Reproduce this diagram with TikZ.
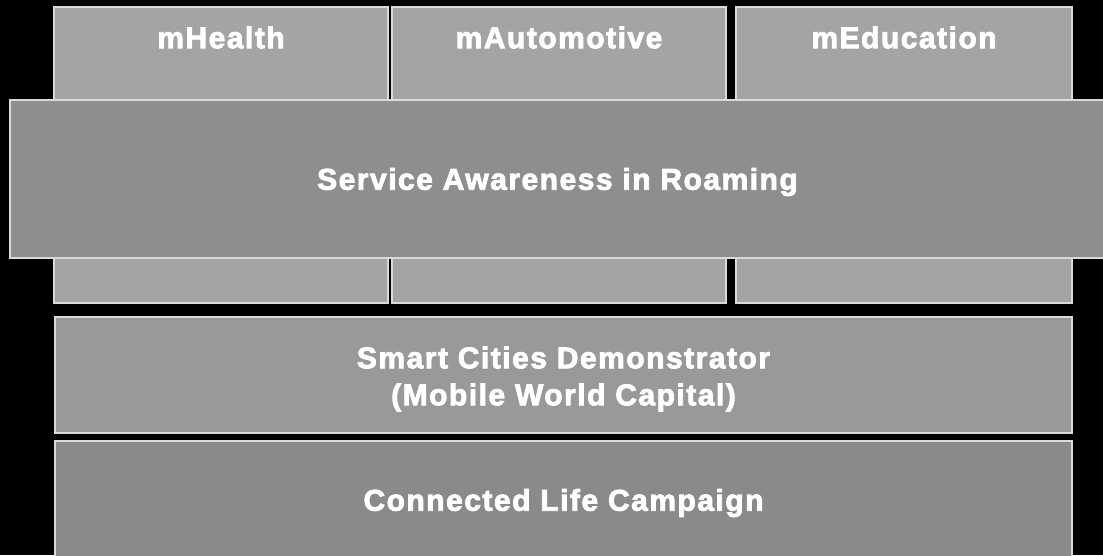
\documentclass[tikz,border=0pt]{standalone}
\usepackage{fontspec}
\setmainfont{Liberation Sans}
\newfontfamily\capfont[LetterSpace=5]{Liberation Sans}
\usetikzlibrary{positioning}

\definecolor{edgegray}{HTML}{DADADA}
\definecolor{colgray}{HTML}{A4A4A4}
\definecolor{servgray}{HTML}{8E8E8E}
\definecolor{smartgray}{HTML}{999999}
\definecolor{lifegray}{HTML}{8A8A8A}
% heavy white text: glyphs filled and stroked
\newcommand{\outl}[1]{\special{pdf:literal direct 2 Tr 0.8 w 1 G}#1\special{pdf:literal direct 0 Tr}}

\begin{document}
\begin{tikzpicture}[x=1pt, y=-1pt,
    colbox/.style={rectangle, draw=edgegray, line width=1.5pt, fill=colgray,
                   minimum width=334pt, minimum height=296pt, inner sep=0pt},
    band/.style={rectangle, draw=edgegray, line width=1.5pt, inner sep=0pt},
    caption/.style={text=white, font=\capfont\bfseries\fontsize{30}{37}\selectfont,
                    align=center, inner sep=0pt}
]

    % Background
    \useasboundingbox (0, 0) rectangle (1103, 555);
    \fill[black] (0, 0) rectangle (1103, 555);

    % Application columns
    \node[colbox] (health) at (221, 155) {};
    \node[caption, anchor=north, below=20pt of health.north] (healthlabel) {\outl{mHealth}};

    \node[colbox] (auto) at (559, 155) {};
    \node[caption, anchor=north, below=20pt of auto.north] (autolabel) {\outl{mAutomotive}};

    \node[colbox, minimum width=336pt] (educ) at (904, 155) {};
    \node[caption, anchor=north, below=20pt of educ.north] (educlabel) {\outl{mEducation}};

    % Service band across the columns
    \node[band, fill=servgray, minimum width=1105pt, minimum height=158pt]
        (service) at (562.5, 179) {};
    \node[caption] (servicelabel) at ([xshift=-5pt, yshift=-3pt]service.center)
        {\outl{Service Awareness in Roaming}};

    % Smart cities
    \node[band, fill=smartgray, minimum width=1017pt, minimum height=116pt]
        (smart) at (563.5, 375) {};
    \node[caption] (smartlabel) at ([yshift=-4pt]smart.center)
        {\outl{Smart Cities Demonstrator}\\\outl{(Mobile World Capital)}};

    % Connected life
    \node[band, fill=lifegray, minimum width=1017pt, minimum height=124pt]
        (life) at (563.5, 503) {};
    \node[caption] (lifelabel) at (life.center) {\outl{Connected Life Campaign}};

\end{tikzpicture}
\end{document}
